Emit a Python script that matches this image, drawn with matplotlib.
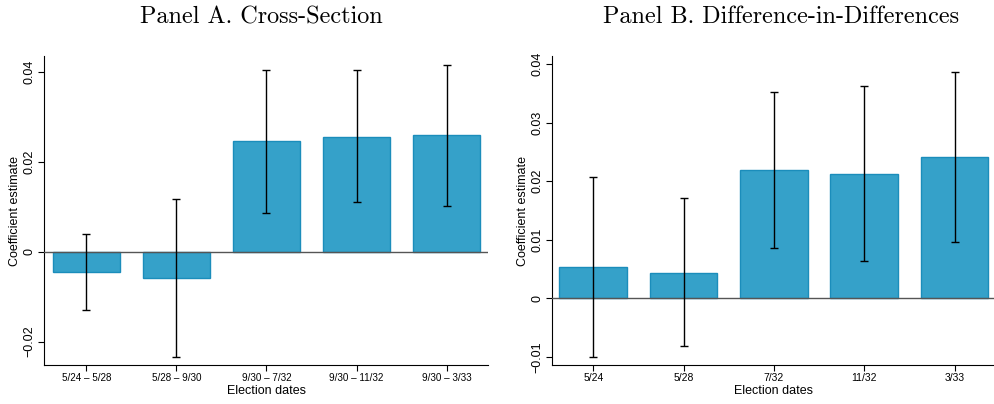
import numpy as np
import matplotlib
matplotlib.use("Agg")
import matplotlib.pyplot as plt

# Panel A: cross-section
labels_a = ["5/24 – 5/28", "5/28 – 9/30", "9/30 – 7/32", "9/30 – 11/32", "9/30 – 3/33"]
coef_a = [-0.0046, -0.0059, 0.0245, 0.0256, 0.0259]
lo_a = [-0.0130, -0.0234, 0.0087, 0.0110, 0.0102]
hi_a = [0.0040, 0.0116, 0.0403, 0.0404, 0.0416]

# Panel B: difference-in-differences
labels_b = ["5/24", "5/28", "7/32", "11/32", "3/33"]
coef_b = [0.0053, 0.0044, 0.0219, 0.0212, 0.0242]
lo_b = [-0.0100, -0.0082, 0.0086, 0.0063, 0.0097]
hi_b = [0.0207, 0.0172, 0.0352, 0.0362, 0.0387]

plt.rcParams['font.family'] = ['Liberation Sans', 'DejaVu Sans']

fig = plt.figure(figsize=(9.95, 4.04), dpi=100)
ax1 = fig.add_axes([0.0442, 0.0965, 0.4463, 0.7649])
ax2 = fig.add_axes([0.5545, 0.0965, 0.4448, 0.7649])


def draw_panel(ax, labels, coef, lo, hi, yticks, ylim, xlim, xfs):
    x = np.arange(len(labels))
    coef = np.array(coef)
    err = [coef - np.array(lo), np.array(hi) - coef]
    ax.bar(x, coef, width=0.75, color='#35a1c9', edgecolor='#1b8dbb', linewidth=1.0, zorder=2)
    ax.axhline(0, color='#555555', linewidth=1.0, zorder=3)
    ax.errorbar(x, coef, yerr=err, fmt='none', ecolor='black', elinewidth=1.0,
                capsize=3, capthick=1.0, zorder=4)
    ax.set_xlim(*xlim)
    ax.set_ylim(*ylim)
    ax.set_xticks(x)
    ax.set_xticklabels(labels, fontsize=xfs)
    ax.set_yticks(yticks)
    ax.set_yticklabels(['0' if t == 0 else ('%g' % t).replace('-', '−') for t in yticks],
                       rotation=90, va='center', fontsize=9)
    ax.set_xlabel('Election dates', fontsize=9, labelpad=1)
    ax.set_ylabel('Coefficient estimate', fontsize=9, labelpad=2)
    ax.spines['top'].set_visible(False)
    ax.spines['right'].set_visible(False)
    ax.tick_params(axis='both', length=4, width=0.8, pad=2)


draw_panel(ax1, labels_a, coef_a, lo_a, hi_a, [-0.02, 0, 0.02, 0.04],
           (-0.0252, 0.0435), (-0.47, 4.46), 7.1)
draw_panel(ax2, labels_b, coef_b, lo_b, hi_b, [-0.01, 0, 0.01, 0.02, 0.03, 0.04],
           (-0.0114, 0.0414), (-0.46, 4.44), 7.5)

fig.text(0.263, 1 - 17 / 404, 'Panel A. Cross-Section', family='cmr10', fontsize=17.4,
         ha='center', va='center')
fig.text(0.785, 1 - 17 / 404, 'Panel B. Difference-in-Differences', family='cmr10',
         fontsize=17.4, ha='center', va='center')

fig.savefig('out.png', dpi=100)
